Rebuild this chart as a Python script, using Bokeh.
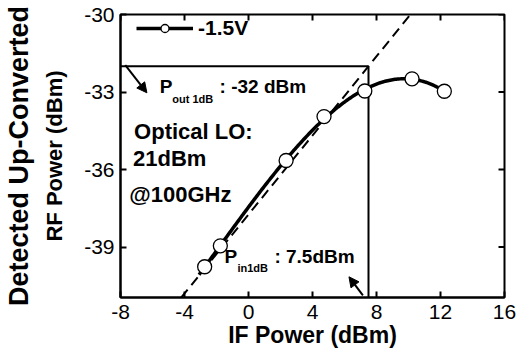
import numpy as np
from bokeh.plotting import figure
from bokeh.models import (Range1d, LinearAxis, FixedTicker, Label, Arrow, NormalHead,
                          Legend, LegendItem)
from bokeh.embed import file_html
from bokeh.resources import INLINE

# ---- data ----
IF_POWER = [-2.74, -1.76, 2.35, 4.72, 7.27, 10.22, 12.24]      # dBm
RF_POWER = [-39.76, -38.95, -35.65, -33.95, -32.96, -32.49, -32.97]  # dBm
SERIES_LABEL = "-1.5V"

LINEAR_X = [-4.2, 10.12]     # small-signal extrapolation (dashed)
LINEAR_Y = [-40.95, -30.0]

P_IN_1DB = 7.5
P_OUT_1DB = -32.0

X_TICKS = [-8, -4, 0, 4, 8, 12, 16]
Y_TICKS = [-39, -36, -33, -30]
X_MIN, X_MAX = -8, 16
Y_MIN, Y_MAX = -40.95, -30

FONT = "Liberation Sans"
W, H = 516, 351
BL, BR, BT, BB = 119, 12, 14, 54
FRAME_W, FRAME_H = W - BL - BR, H - BT - BB
TICK = 6

p = figure(width=W, height=H, output_backend="svg", toolbar_location=None,
           x_range=Range1d(X_MIN, X_MAX), y_range=Range1d(Y_MIN, Y_MAX),
           min_border_left=BL, min_border_right=BR, min_border_top=BT,
           min_border_bottom=BB, x_axis_location=None, y_axis_location=None)
p.outline_line_color = "black"
p.outline_line_width = 2
p.xgrid.visible = False
p.ygrid.visible = False
p.background_fill_color = "white"
p.border_fill_color = "white"


def style_axis(ax, ticks):
    ax.axis_line_width = 2
    ax.axis_line_color = "black"
    ax.major_tick_in = TICK
    ax.major_tick_out = 0
    ax.major_tick_line_width = 2
    ax.minor_tick_line_color = None
    ax.major_label_text_font = FONT
    ax.major_label_text_font_size = "21px"
    ax.major_label_text_color = "black"
    ax.major_label_overrides = {t: str(t) for t in ticks}
    ax.axis_label_text_font = FONT
    ax.axis_label_text_font_style = "bold"
    ax.axis_label_text_color = "black"


xb = LinearAxis(ticker=FixedTicker(ticks=X_TICKS), axis_label="IF Power (dBm)")
style_axis(xb, X_TICKS)
xb.major_label_standoff = 7
xb.axis_label_text_font_size = "23px"
xb.axis_label_standoff = 0
p.add_layout(xb, "below")

yl = LinearAxis(ticker=FixedTicker(ticks=Y_TICKS), axis_label="RF Power (dBm)")
style_axis(yl, Y_TICKS)
yl.major_label_standoff = 6
yl.axis_label_text_font_size = "22px"
yl.axis_label_standoff = 14
p.add_layout(yl, "left")

yl2 = LinearAxis(ticker=FixedTicker(ticks=[]), axis_label="Detected Up-Converted")
yl2.axis_line_color = None
yl2.major_tick_line_color = None
yl2.minor_tick_line_color = None
yl2.axis_label_text_font = FONT
yl2.axis_label_text_font_style = "bold"
yl2.axis_label_text_font_size = "27px"
yl2.axis_label_text_color = "black"
yl2.axis_label_standoff = 6
p.add_layout(yl2, "left")

# mirrored inward ticks on the top and right edges
dy = TICK * (Y_MAX - Y_MIN) / FRAME_H
dx = TICK * (X_MAX - X_MIN) / FRAME_W
p.segment(x0=X_TICKS, y0=[Y_MAX] * len(X_TICKS), x1=X_TICKS,
          y1=[Y_MAX - dy] * len(X_TICKS), line_color="black", line_width=2)
p.segment(x0=[X_MAX] * len(Y_TICKS), y0=Y_TICKS, x1=[X_MAX - dx] * len(Y_TICKS),
          y1=Y_TICKS, line_color="black", line_width=2)

# 1 dB compression guide lines
p.segment(x0=[X_MIN], y0=[P_OUT_1DB], x1=[P_IN_1DB], y1=[P_OUT_1DB],
          line_color="black", line_width=2)
p.segment(x0=[P_IN_1DB], y0=[Y_MIN], x1=[P_IN_1DB], y1=[P_OUT_1DB],
          line_color="black", line_width=2)

# dashed linear extrapolation
p.line(LINEAR_X, LINEAR_Y, line_color="black", line_width=2, line_dash="10 6")

# smooth fitted curve through the measured points
xarr = np.array(IF_POWER)
yarr = np.array(RF_POWER)
coef = np.polyfit(xarr, yarr, 3)
xs = np.linspace(xarr.min() - 0.35, xarr.max(), 200)
curve = p.line(xs, np.polyval(coef, xs), line_color="black", line_width=3.5)
marks = p.scatter(IF_POWER, RF_POWER, marker="circle", size=14,
                  fill_color="white", line_color="black", line_width=1.3)

legend = Legend(items=[LegendItem(label=SERIES_LABEL, renderers=[curve, marks])],
                location=(16, 257), glyph_width=57, glyph_height=20,
                label_standoff=5, padding=0, margin=0,
                border_line_color=None, background_fill_alpha=0,
                label_text_font=FONT, label_text_font_style="bold",
                label_text_color="black",
                label_text_font_size="21px", label_height=22)
p.add_layout(legend, "center")


def lab(x, y, text, size, **kw):
    p.add_layout(Label(x=x, y=y, text=text, text_font=FONT,
                       text_font_size=size, text_font_style="bold",
                       text_color="black", **kw))


# annotations
lab(-5.55, -33.21, "P", "19px")
lab(-4.76, -33.50, "out 1dB", "11px")
lab(-1.81, -33.21, ": -32 dBm", "19px")
lab(-7.15, -35.01, "Optical LO:", "22px")
lab(-7.22, -36.06, "21dBm", "22px")
lab(-7.45, -37.45, "@100GHz", "22px")
lab(-1.50, -39.78, "P", "19px")
lab(-0.69, -40.05, "in1dB", "11px")
lab(1.62, -39.78, ": 7.5dBm", "19px")

p.add_layout(Arrow(end=NormalHead(size=10, fill_color="black", line_color="black"),
                   x_start=-7.7, y_start=-31.96, x_end=-6.35, y_end=-33.03,
                   line_width=2, line_color="black"))
p.add_layout(Arrow(end=NormalHead(size=10, fill_color="black", line_color="black"),
                   x_start=7.15, y_start=-40.87, x_end=6.28, y_end=-40.15,
                   line_width=2, line_color="black"))

open("out.html", "w").write(file_html(p, INLINE))
